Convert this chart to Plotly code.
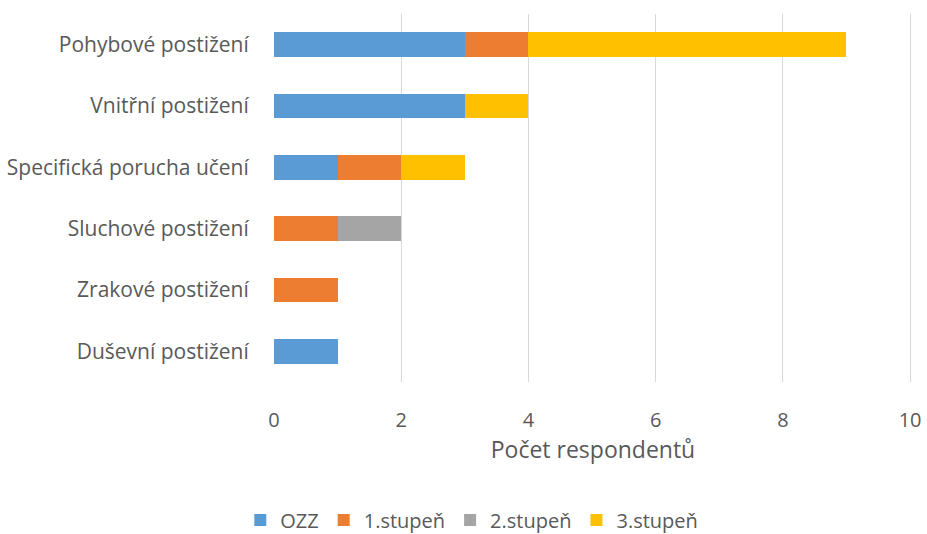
import plotly.graph_objects as go

categories = [
    "Duševní postižení",
    "Zrakové postižení",
    "Sluchové postižení",
    "Specifická porucha učení",
    "Vnitřní postižení",
    "Pohybové postižení",
]
ozz = [1, 0, 0, 1, 3, 3]
stupen1 = [0, 1, 1, 1, 0, 1]
stupen2 = [0, 0, 1, 0, 0, 0]
stupen3 = [0, 0, 0, 1, 1, 5]

series = [
    ("OZZ", ozz, "#5B9BD5"),
    ("1.stupeň", stupen1, "#ED7D31"),
    ("2.stupeň", stupen2, "#A5A5A5"),
    ("3.stupeň", stupen3, "#FFC000"),
]

fig = go.Figure()
for name, vals, color in series:
    fig.add_trace(
        go.Bar(
            y=categories,
            x=vals,
            name=name,
            orientation="h",
            marker=dict(color=color, line=dict(width=0)),
        )
    )

fig.update_layout(
    barmode="stack",
    bargap=0.6,
    width=927,
    height=534,
    paper_bgcolor="white",
    plot_bgcolor="white",
    font=dict(family="Open Sans, sans-serif", size=21, color="#595959"),
    margin=dict(l=274, r=15, t=14, b=152, autoexpand=False),
    legend=dict(
        orientation="h",
        x=0.31,
        xanchor="center",
        y=-0.375,
        yanchor="middle",
        font=dict(size=20),
        itemwidth=30,
        traceorder="normal",
    ),
    xaxis=dict(
        # a hair past 10 so the last gridline is still drawn
        range=[0, 10.03],
        tickvals=[0, 2, 4, 6, 8, 10],
        showgrid=True,
        gridcolor="#D9D9D9",
        gridwidth=1,
        zeroline=False,
        showline=False,
        automargin=False,
        ticks="outside",
        ticklen=20,
        tickcolor="rgba(0,0,0,0)",
        tickfont=dict(size=20),
        ticklabeloverflow="allow",
        title=dict(text="Počet respondentů", font=dict(size=23), standoff=8),
    ),
    yaxis=dict(
        showgrid=False,
        showline=False,
        automargin=False,
        ticks="outside",
        ticklen=20,
        tickcolor="rgba(0,0,0,0)",
    ),
)

# drop the page's default body margin so the figure fills the window exactly
fig.write_html(
    "out.html",
    config={"displayModeBar": False},
    post_script="document.body.style.margin = '0';",
)
